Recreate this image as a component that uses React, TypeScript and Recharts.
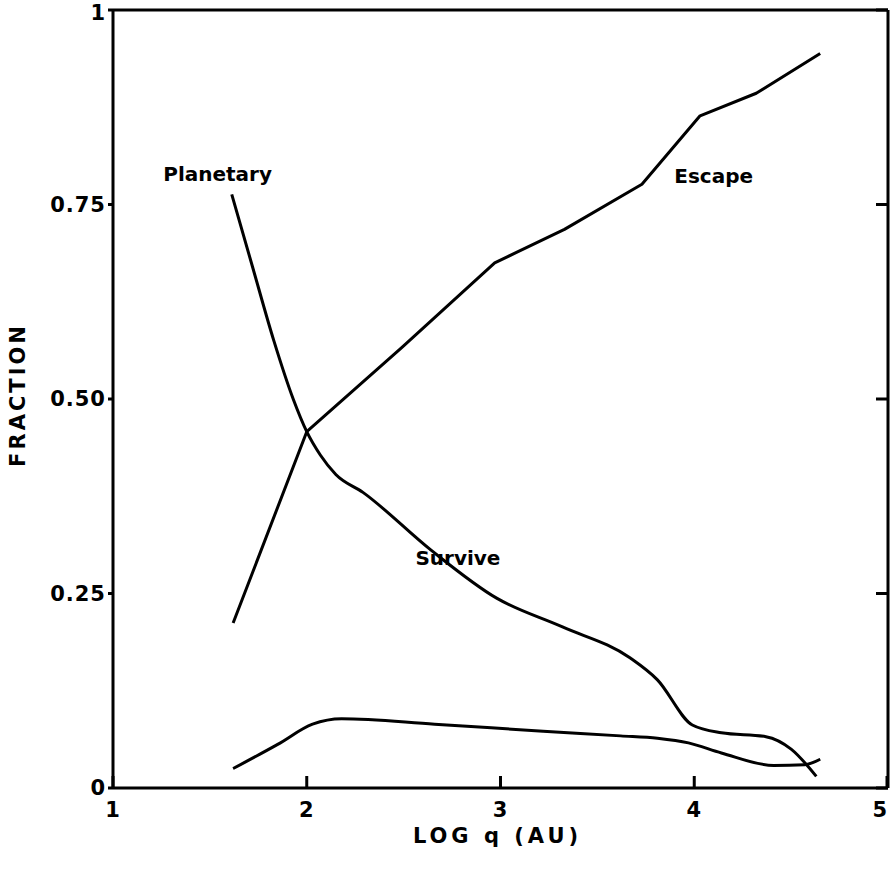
import { Line, LineChart, ReferenceDot, XAxis, YAxis, Label } from "recharts";

const FONT = "'DejaVu Sans', sans-serif";

// axes
const xTicks = [1, 2, 3, 4, 5];
const yTicks = [0, 0.25, 0.5, 0.75, 1];
const yTickLabels = ["0", "0.25", "0.50", "0.75", "1"];

// curves (log q, fraction)
const escapeQ = [1.62, 2.0, 2.49, 2.97, 3.33, 3.73, 4.03, 4.32, 4.65];
const escapeF = [0.212, 0.458, 0.566, 0.675, 0.718, 0.776, 0.864, 0.893, 0.944];

const planetaryQ = [1.613, 1.72, 1.83, 1.93, 2.0, 2.07, 2.15, 2.29, 2.64, 2.98, 3.32, 3.67, 3.81, 3.99, 4.14, 4.37, 4.5, 4.63];
const planetaryF = [0.763, 0.67, 0.575, 0.5, 0.458, 0.428, 0.403, 0.38, 0.306, 0.244, 0.207, 0.167, 0.139, 0.081, 0.071, 0.066, 0.05, 0.015];

const surviveQ = [1.62, 1.85, 2.03, 2.18, 2.66, 3.22, 3.62, 3.81, 3.97, 4.14, 4.41, 4.57, 4.65];
const surviveF = [0.025, 0.056, 0.082, 0.089, 0.082, 0.073, 0.067, 0.064, 0.058, 0.045, 0.029, 0.03, 0.037];

// curve names and where they are written
const curveNames = ["Planetary", "Escape", "Survive"];
const nameQ = [1.54, 4.1, 2.78];
const nameF = [0.789, 0.786, 0.296];

const zip = (qs: number[], fs: number[]) => qs.map((q, i) => ({ q, f: fs[i] }));

const escape = zip(escapeQ, escapeF);
const planetary = zip(planetaryQ, planetaryF);
const survive = zip(surviveQ, surviveF);

const tickStyle = { fill: "#000", fontSize: 21, fontWeight: 700, fontFamily: FONT, letterSpacing: 1 };
const textStyle = { fill: "#000", fontSize: 20, fontWeight: 700, fontFamily: FONT };
const axisLine = { stroke: "#000", strokeWidth: 3 };
const tickLine = { stroke: "#000", strokeWidth: 3 };
const INWARD = 12;
const GAP = 14;

// bottom ticks point into the plot, label sits under the axis
function BottomTick(props: any) {
  const { x, y, payload, index, visibleTicksCount } = props;
  const axisY = y - GAP;
  const last = index === visibleTicksCount - 1;
  return (
    <g>
      <line x1={x} x2={x} y1={axisY} y2={axisY - INWARD} stroke="#000" strokeWidth={3} />
      <text x={last ? x + 1 : x} y={y} dy="0.72em" textAnchor={last ? "end" : "middle"} style={tickStyle}>
        {payload.value}
      </text>
    </g>
  );
}

// right-hand frame ticks, pointing inward, no labels
function RightTick(props: any) {
  const { x, y } = props;
  return <line x1={x} x2={x - INWARD} y1={y} y2={y} stroke="#000" strokeWidth={3} />;
}

export default function App() {
  return (
    <div style={{ position: "absolute", left: 0, top: 0, background: "#fff" }}>
      <LineChart width={891} height={869} margin={{ top: 9, right: 2, left: 0, bottom: 0 }}>
        <XAxis
          type="number"
          dataKey="q"
          domain={[1, 5]}
          ticks={xTicks}
          height={81}
          axisLine={axisLine}
          tickLine={false}
          tickSize={0}
          tickMargin={GAP}
          tick={<BottomTick />}
          allowDataOverflow
        >
          <Label
            content={({ viewBox }: any) => (
              <text
                x={viewBox.x + viewBox.width / 2 - 3}
                y={viewBox.y + 55}
                textAnchor="middle"
                style={{ ...textStyle, fontSize: 21, letterSpacing: 4 }}
              >
                LOG q (AU)
              </text>
            )}
          />
        </XAxis>
        <XAxis
          xAxisId="top"
          orientation="top"
          type="number"
          dataKey="q"
          domain={[1, 5]}
          ticks={xTicks}
          height={1}
          axisLine={axisLine}
          tick={false}
          tickLine={false}
        />
        <YAxis
          type="number"
          domain={[0, 1]}
          ticks={yTicks}
          width={113}
          axisLine={axisLine}
          tickLine={tickLine}
          tickSize={5}
          tickMargin={2}
          tick={tickStyle}
          tickFormatter={(v: number) => yTickLabels[yTicks.indexOf(v)]}
        >
          <Label
            content={({ viewBox }: any) => {
              const cx = viewBox.x + 18;
              const cy = viewBox.y + viewBox.height / 2 - 4;
              return (
                <text
                  x={cx}
                  y={cy}
                  textAnchor="middle"
                  dominantBaseline="central"
                  transform={`rotate(-90 ${cx} ${cy})`}
                  style={{ ...textStyle, fontSize: 21, letterSpacing: 3 }}
                >
                  FRACTION
                </text>
              );
            }}
          />
        </YAxis>
        <YAxis
          yAxisId="right"
          orientation="right"
          type="number"
          domain={[0, 1]}
          ticks={yTicks}
          width={1}
          axisLine={axisLine}
          tickLine={false}
          tickSize={0}
          tickMargin={0}
          tick={<RightTick />}
        />
        <Line data={planetary} dataKey="f" type="monotone" stroke="#000" strokeWidth={3} dot={false} isAnimationActive={false} />
        <Line data={escape} dataKey="f" type="linear" stroke="#000" strokeWidth={3} strokeLinejoin="round" dot={false} isAnimationActive={false} />
        <Line
          data={survive}
          dataKey="f"
          yAxisId="right"
          type="monotone"
          stroke="#000"
          strokeWidth={3}
          dot={false}
          isAnimationActive={false}
        />
        {curveNames.map((name, i) => (
          <ReferenceDot
            key={name}
            x={nameQ[i]}
            y={nameF[i]}
            r={0}
            shape={(p: any) => (
              <text x={p.cx} y={p.cy} textAnchor="middle" dominantBaseline="central" style={textStyle}>
                {name}
              </text>
            )}
          />
        ))}
      </LineChart>
    </div>
  );
}
